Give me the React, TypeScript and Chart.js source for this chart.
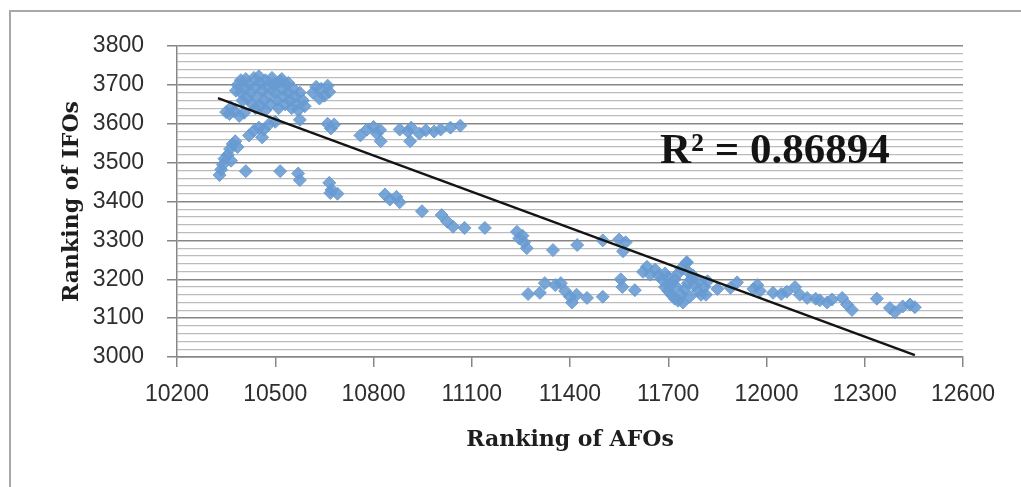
import { useEffect, useRef } from "react";
import { Chart, registerables } from "chart.js";

Chart.register(...registerables);

// Ranking of AFOs (x) — one entry per plotted point
const afoRank = [
  10385, 10395, 10405, 10410, 10420, 10425, 10435, 10440, 10445, 10450, 10455, 10460, 10465, 10470, 10475, 10480,
  10485, 10490, 10495, 10500, 10505, 10510, 10515, 10520, 10525, 10530, 10535, 10540, 10545, 10550, 10555, 10560,
  10565, 10570, 10575, 10585, 10590, 10395, 10415, 10430, 10400, 10380, 10440, 10455, 10470, 10500, 10520, 10540,
  10615, 10625, 10640, 10650, 10660, 10665, 10635,
  10350, 10360, 10375, 10390, 10405, 10365,
  10420, 10435, 10450, 10465, 10480, 10500, 10460,
  10575, 10660, 10680, 10670,
  10330, 10335, 10340, 10345, 10355, 10362, 10370, 10378, 10385, 10365,
  10410, 10515, 10570, 10575, 10665, 10672, 10690, 10668,
  10760, 10780, 10800, 10820, 10822, 10810,
  10880, 10905, 10915, 10940, 10960, 10985, 11005, 11035, 11065, 10912,
  10835, 10850, 10870, 10880, 10948, 11008, 11025, 11043, 11078, 11140, 11238, 11245, 11255, 11260, 11268, 11348,
  11422, 11500, 11550, 11562, 11570,
  11272, 11308, 11323, 11355, 11372, 11385, 11400, 11406, 11420, 11452, 11500, 11560, 11598, 11555,
  11635, 11645, 11623, 11757,
  11660, 11670, 11680, 11690, 11700, 11710, 11720, 11730, 11740, 11755, 11760, 11690, 11700, 11710, 11720, 11730,
  11740, 11750, 11760, 11770, 11780, 11790, 11800, 11810, 11820, 11745, 11765, 11725, 11705, 11775, 11795, 11815,
  11850, 11890, 11910, 11960, 11972, 11980, 12020, 12045, 12062, 12087, 12102, 12124, 12150, 12163, 12185, 12200,
  12231, 12246, 12261, 12337, 12377, 12392, 12416, 12438, 12453,
];

// Ranking of IFOs (y) — same order as afoRank
const ifoRank = [
  3700, 3712, 3690, 3715, 3700, 3680, 3718, 3695, 3670, 3722, 3705, 3685, 3660, 3712, 3695, 3675,
  3650, 3718, 3700, 3680, 3660, 3640, 3710, 3690, 3670, 3650, 3700, 3680, 3660, 3640, 3690, 3670,
  3650, 3635, 3680, 3660, 3645, 3680, 3665, 3650, 3660, 3685, 3640, 3645, 3635, 3700, 3715, 3705,
  3680, 3695, 3690, 3672, 3698, 3682, 3665,
  3630, 3625, 3632, 3620, 3628, 3642,
  3570, 3582, 3590, 3585, 3598, 3605, 3565,
  3610, 3600, 3598, 3588,
  3468, 3482, 3495, 3510, 3520, 3535, 3548, 3555, 3540, 3505,
  3478, 3478, 3472, 3455, 3448, 3430, 3420, 3422,
  3570, 3585, 3592, 3584, 3555, 3575,
  3585, 3580, 3590, 3575, 3583, 3580, 3585, 3590, 3595, 3555,
  3418, 3405, 3412, 3398, 3375, 3365, 3348, 3335, 3332, 3332, 3322, 3305, 3312, 3295, 3280, 3275,
  3288, 3300, 3302, 3272, 3295,
  3162, 3165, 3190, 3185, 3190, 3170, 3155, 3140, 3160, 3152, 3155, 3180, 3172, 3200,
  3232, 3212, 3219, 3244,
  3225, 3210, 3200, 3215, 3205, 3190, 3200, 3215, 3228, 3242, 3220, 3180, 3170, 3160, 3150, 3145,
  3160, 3175, 3190, 3200, 3185, 3170, 3160, 3180, 3195, 3140, 3155, 3180, 3185, 3210, 3195, 3160,
  3175, 3178, 3192, 3175, 3185, 3170, 3165, 3162, 3168, 3180, 3160, 3152, 3150, 3146, 3140, 3148,
  3152, 3135, 3121, 3150, 3126, 3115, 3130, 3135, 3128,
];

// Linear trend line endpoints
const trendX = [10325, 12453];
const trendY = [3666, 3005];

// Axis ranges and tick steps
const xRange = [10200, 12600];
const xStep = 300;
const yRange = [3000, 3800];
const yMinorStep = 20;
const yMajorStep = 100;

const xTitle = "Ranking of AFOs";
const yTitle = "Ranking of IFOs";
const r2Label = "R\u00B2 = 0.86894";
const r2Anchor = [11675, 3500];

const r2Plugin = {
  id: "r2Label",
  afterDatasetsDraw(chart: any) {
    const { ctx, scales } = chart;
    const px = scales.x.getPixelForValue(r2Anchor[0]);
    const py = scales.y.getPixelForValue(r2Anchor[1]);
    ctx.save();
    ctx.font = 'bold 43px "Liberation Serif"';
    ctx.fillStyle = "#141414";
    ctx.textAlign = "left";
    ctx.textBaseline = "alphabetic";
    ctx.fillText(r2Label, px, py);
    ctx.restore();
  },
};

export default function App() {
  const canvasRef = useRef<HTMLCanvasElement | null>(null);

  useEffect(() => {
    const canvas = canvasRef.current;
    if (!canvas) return;
    const n = Math.min(afoRank.length, ifoRank.length);
    const pts = [] as { x: number; y: number }[];
    for (let i = 0; i < n; i++) pts.push({ x: afoRank[i], y: ifoRank[i] });
    const trend = trendX.map((x, i) => ({ x, y: trendY[i] }));

    const tickFont = { family: '"Liberation Sans", Arial, sans-serif', size: 23 };
    const titleFont = { family: '"DejaVu Serif", serif', size: 22, weight: "bold" as const };
    const major = "#878787";
    const minor = "#bcbcbc";

    const chart = new Chart(canvas, {
      type: "scatter",
      data: {
        datasets: [
          {
            label: "trend",
            data: trend,
            showLine: true,
            borderColor: "#141414",
            borderWidth: 2.3,
            pointRadius: 0,
            order: 0,
          } as any,
          {
            label: "AFO vs IFO",
            data: pts,
            pointStyle: "rectRot",
            pointRadius: 6.5,
            backgroundColor: "rgba(104,155,210,0.88)",
            borderColor: "rgba(104,155,210,0.88)",
            borderWidth: 1,
            order: 1,
          } as any,
        ],
      },
      options: {
        animation: false,
        responsive: false,
        layout: { padding: { left: 40, right: 58, top: 46, bottom: 34 } },
        plugins: { legend: { display: false }, tooltip: { enabled: false } },
        scales: {
          x: {
            type: "linear",
            min: xRange[0],
            max: xRange[1],
            afterFit: (s: any) => {
              s.height = 96;
            },
            ticks: {
              stepSize: xStep,
              padding: 14,
              color: "#2e2e2e",
              font: tickFont,
              maxRotation: 0,
              autoSkip: false,
              callback: (v: any) => String(v),
            },
            grid: {
              drawOnChartArea: false,
              drawTicks: true,
              tickLength: 10,
              color: major,
              lineWidth: 1.5,
            },
            border: { display: true, color: major, width: 1.5 },
            title: {
              display: true,
              text: xTitle,
              color: "#1e1e1e",
              font: titleFont,
              padding: { top: 0, bottom: 0 },
            },
          },
          y: {
            type: "linear",
            min: yRange[0],
            max: yRange[1],
            afterFit: (s: any) => {
              s.width = 137;
            },
            ticks: {
              stepSize: yMinorStep,
              padding: 23,
              color: "#2e2e2e",
              font: tickFont,
              autoSkip: false,
              callback: (v: any) => (Math.round(v) % yMajorStep === 0 ? String(Math.round(v)) : ""),
            },
            grid: {
              drawTicks: true,
              tickLength: 10,
              color: (c: any) => (c.tick && Math.round(c.tick.value) % yMajorStep === 0 ? major : minor),
              tickColor: (c: any) =>
                c.tick && Math.round(c.tick.value) % yMajorStep === 0 ? major : "rgba(0,0,0,0)",
              lineWidth: (c: any) => (c.tick && Math.round(c.tick.value) % yMajorStep === 0 ? 1.5 : 1.2),
            },
            border: { display: true, color: major, width: 1.5 },
            title: {
              display: true,
              text: yTitle,
              color: "#1e1e1e",
              font: titleFont,
              padding: { top: 19, bottom: 0 },
            },
          },
        },
      },
      plugins: [r2Plugin],
    });
    return () => chart.destroy();
  }, []);

  return (
    <div
      style={{
        position: "fixed",
        left: 0,
        top: 0,
        width: 1021,
        height: 487,
        background: "#ffffff",
        overflow: "hidden",
      }}
    >
      <div
        style={{
          position: "absolute",
          left: 9,
          top: 10,
          width: 1040,
          height: 500,
          borderTop: "2px solid #a8a8a8",
          borderLeft: "2px solid #a8a8a8",
        }}
      />
      <canvas
        ref={canvasRef}
        width={1021}
        height={487}
        style={{ position: "absolute", left: 0, top: 0 }}
      />
    </div>
  );
}
